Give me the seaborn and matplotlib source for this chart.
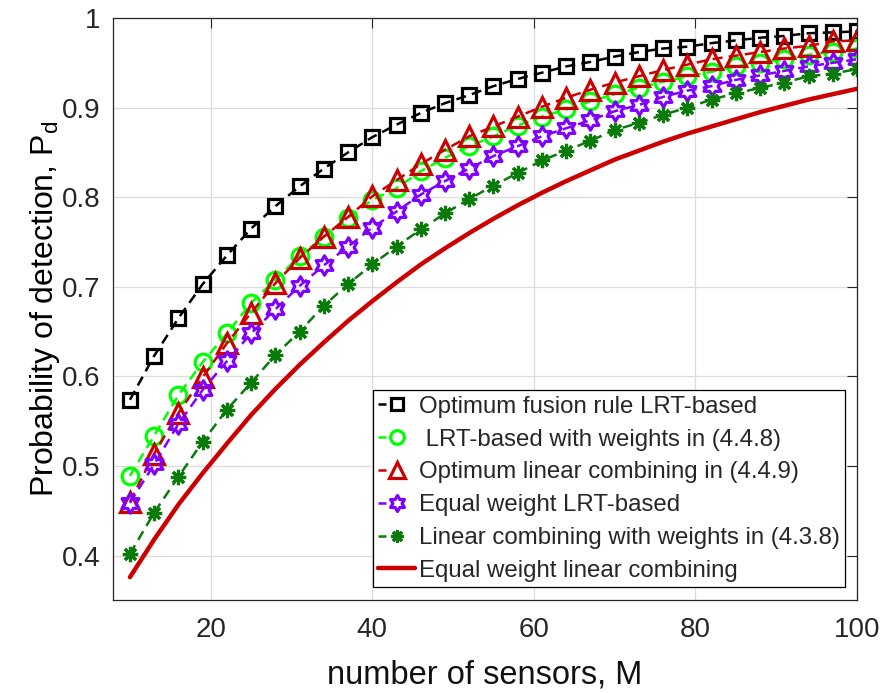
import numpy as np
import pandas as pd
import matplotlib
matplotlib.use("Agg")
import matplotlib.pyplot as plt
from matplotlib.path import Path
import seaborn as sns

# Number of sensors M
sensors = list(range(10, 101, 3))

# Probability of detection for each fusion scheme
pd_optimum_fusion = [0.574, 0.623, 0.665, 0.703, 0.735, 0.765, 0.790, 0.812, 0.832, 0.850,
                     0.867, 0.881, 0.894, 0.905, 0.914, 0.924, 0.932, 0.939, 0.946, 0.951,
                     0.957, 0.962, 0.966, 0.968, 0.972, 0.975, 0.978, 0.980, 0.983, 0.984, 0.985]
pd_lrt_weights = [0.489, 0.534, 0.579, 0.616, 0.648, 0.682, 0.708, 0.734, 0.756, 0.777,
                  0.797, 0.810, 0.829, 0.844, 0.857, 0.868, 0.880, 0.890, 0.898, 0.907,
                  0.915, 0.922, 0.929, 0.935, 0.940, 0.946, 0.950, 0.954, 0.959, 0.962, 0.966]
pd_optimum_linear = [0.460, 0.514, 0.559, 0.599, 0.637, 0.671, 0.704, 0.732, 0.756, 0.778,
                     0.801, 0.819, 0.837, 0.853, 0.868, 0.879, 0.890, 0.901, 0.911, 0.920,
                     0.928, 0.935, 0.942, 0.948, 0.954, 0.958, 0.962, 0.966, 0.969, 0.974, 0.975]
pd_equal_lrt = [0.459, 0.502, 0.547, 0.585, 0.617, 0.648, 0.675, 0.701, 0.724, 0.745,
                0.766, 0.784, 0.803, 0.818, 0.832, 0.846, 0.857, 0.868, 0.877, 0.886,
                0.896, 0.903, 0.912, 0.919, 0.924, 0.931, 0.936, 0.941, 0.946, 0.950, 0.954]
pd_linear_weights = [0.402, 0.448, 0.488, 0.527, 0.563, 0.593, 0.624, 0.650, 0.679, 0.703,
                     0.725, 0.745, 0.764, 0.782, 0.798, 0.813, 0.827, 0.841, 0.852, 0.863,
                     0.875, 0.883, 0.892, 0.900, 0.909, 0.916, 0.922, 0.928, 0.935, 0.938, 0.943]
pd_equal_linear = [0.376, 0.418, 0.457, 0.492, 0.525, 0.557, 0.586, 0.613, 0.638, 0.662,
                   0.684, 0.705, 0.725, 0.743, 0.760, 0.776, 0.791, 0.805, 0.818, 0.830,
                   0.842, 0.852, 0.862, 0.871, 0.879, 0.887, 0.895, 0.902, 0.909, 0.915, 0.921]

labels = ["Optimum fusion rule LRT-based",
          " LRT-based with weights in (4.4.8)",
          "Optimum linear combining in (4.4.9)",
          "Equal weight LRT-based",
          "Linear combining with weights in (4.3.8)",
          "Equal weight linear combining"]

x_ticks = [20, 40, 60, 80, 100]
y_ticks = [0.4, 0.5, 0.6, 0.7, 0.8, 0.9, 1.0]
y_ticklabels = ["0.4", "0.5", "0.6", "0.7", "0.8", "0.9", "1"]

sns.set_style("white")
plt.rcParams["font.family"] = ["Liberation Sans", "DejaVu Sans"]
plt.rcParams["mathtext.fontset"] = "custom"
plt.rcParams["mathtext.rm"] = "Liberation Sans"
plt.rcParams["mathtext.it"] = "Liberation Sans"

# six-pointed star marker
hexagram = Path.unit_regular_star(6, innerCircle=0.577)

dash = (0, (4, 2.5))
styles = [
    dict(color="black", marker="s", ms=10, ls=dash, lw=1.8),
    dict(color="#00ff00", marker="o", ms=12, ls=dash, lw=1.8),
    dict(color="#cc0000", marker="^", ms=14, ls=dash, lw=1.8),
    dict(color="#8000ff", marker=hexagram, ms=14, ls=dash, lw=1.8),
    dict(color="#0a7a0a", marker=(8, 2, 0), ms=11, ls=dash, lw=1.8),
    dict(color="#cc0000", marker=None, ms=0, ls="-", lw=3.2),
]

series = [pd_optimum_fusion, pd_lrt_weights, pd_optimum_linear,
          pd_equal_lrt, pd_linear_weights, pd_equal_linear]

fig = plt.figure(figsize=(8.86, 6.93), dpi=100)
ax = fig.add_axes([0.1275, 0.1335, 0.8398, 0.8405])

for vals, lab, st in zip(series, labels, styles):
    df = pd.DataFrame({"M": sensors, "Pd": vals})
    sns.lineplot(data=df, x="M", y="Pd", ax=ax, label=lab,
                 color=st["color"], linestyle=st["ls"], linewidth=st["lw"],
                 marker=st["marker"], markersize=st["ms"],
                 markerfacecolor="none", markeredgecolor=st["color"],
                 markeredgewidth=2.3, errorbar=None, sort=False)

ax.set_xlim(7.9, 100)
ax.set_ylim(0.35, 1.0)
ax.set_xticks(x_ticks)
ax.set_yticks(y_ticks)
ax.set_yticklabels(y_ticklabels)
ax.tick_params(axis="both", which="both", direction="in", top=True, right=True,
               labelsize=20, length=7, width=0.8, colors="#262626", pad=9)
ax.tick_params(axis="x", pad=12)
for lab in ax.get_xticklabels() + ax.get_yticklabels():
    lab.set_color("#262626")

ax.grid(True, color="#dcdcdc", linewidth=0.9)
for sp in ax.spines.values():
    sp.set_color("#262626")
    sp.set_linewidth(0.9)
    sp.set_visible(True)

ax.set_xlabel("number of sensors, M", fontsize=23.5, color="#111111", labelpad=12)
ax.set_ylabel("Probability of detection, P$_\\mathrm{d}$", fontsize=23,
              color="black", labelpad=0)

leg = ax.legend(loc="lower right", bbox_to_anchor=(0.984, 0.023), borderaxespad=0,
                fontsize=17.3, frameon=True, fancybox=False, framealpha=1,
                edgecolor="black", handlelength=1.55, handletextpad=0.15,
                labelspacing=0.45, borderpad=0.22, markerscale=0.82)
leg.get_frame().set_linewidth(0.9)
# legend keys: a short leading dash followed by the marker
for line in leg.get_lines()[:5]:
    line.set_linestyle((0, (3.2, 40)))

fig.savefig("out.png", dpi=100)
